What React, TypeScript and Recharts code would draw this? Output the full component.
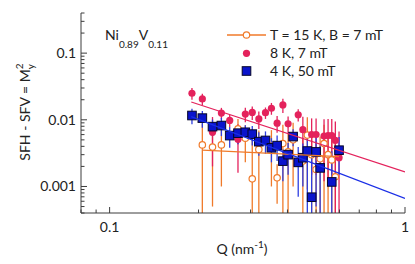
import { ScatterChart, Scatter, XAxis, YAxis, ErrorBar } from 'recharts';

// Q grid (nm^-1), shared by all three data sets
const qValues = [0.190, 0.206, 0.223, 0.239, 0.255, 0.272, 0.288, 0.304, 0.320, 0.337, 0.353, 0.369, 0.386, 0.402, 0.418, 0.435, 0.451, 0.467, 0.483, 0.500, 0.516, 0.532, 0.549, 0.565, 0.581, 0.598];

// T = 15 K, B = 7 mT
const orangeValues = [null, 0.0042, 0.0039, 0.0042, null, 0.0073, 0.0053, 0.0013, 0.0036, null, 0.0040, 0.00135, 0.0044, 0.0033, 0.0050, null, 0.0024, 0.0059, 0.0030, 0.0018, 0.0026, 0.0044, 0.0030, 0.0025, 0.0014, null];
const orangeErrors = [null, 0.0045, 0.0034, 0.0032, null, 0.003, 0.003, 0.006, 0.0033, null, 0.003, 0.0008, 0.004, 0.003, 0.004, null, 0.003, 0.005, 0.003, 0.003, 0.003, 0.004, 0.003, 0.004, 0.003, null];

// 8 K, 7 mT
const redValues = [0.025, 0.0206, 0.0065, 0.0126, 0.0098, 0.0051, 0.0122, 0.0129, 0.0103, 0.0128, 0.0149, 0.0089, 0.0167, 0.0087, null, 0.0119, 0.0071, null, 0.0060, 0.0060, null, 0.0057, 0.0058, 0.0058, 0.0049, 0.0027];
const redErrors = [0.005, 0.004, 0.0045, 0.0025, 0.002, 0.0035, 0.003, 0.003, 0.003, 0.0025, 0.003, 0.0025, 0.004, 0.0025, null, 0.0025, 0.004, null, 0.0045, 0.0045, null, 0.0045, 0.0045, 0.0045, 0.0045, 0.004];

// 4 K, 50 mT
const blueValues = [0.0116, 0.0106, 0.0079, 0.0082, 0.0058, 0.0063, 0.0065, 0.0061, 0.0047, 0.0049, 0.0038, 0.0041, 0.0024, 0.0030, 0.0056, 0.0023, 0.0027, 0.0034, 0.00069, 0.0033, 0.0019, null, null, 0.00117, null, 0.0035];
const blueErrors = [0.003, 0.003, 0.0022, 0.0025, 0.002, 0.002, 0.0018, 0.002, 0.0018, 0.0018, 0.0015, 0.0017, 0.0012, 0.0015, 0.0016, 0.0016, 0.0017, 0.003, 0.0023, 0.0028, 0.0022, null, null, 0.0022, null, 0.002];

// power-law fits (end points)
const orangeFitQ = [0.206, 0.598];
const orangeFitV = [0.0035, 0.0028];
const redFitQ = [0.189, 1];
const redFitV = [0.0185, 0.00165];
const blueFitQ = [0.189, 1];
const blueFitV = [0.0112, 0.00066];

const xTicks = [0.08, 0.09, 0.1, 0.2, 0.3, 0.4, 0.5, 0.6, 0.7, 0.8, 0.9, 1];
const xLabels = [0.1, 1];
const yTicks = [0.0004, 0.0005, 0.0006, 0.0007, 0.0008, 0.0009, 0.001, 0.002, 0.003, 0.004, 0.005, 0.006, 0.007, 0.008, 0.009, 0.01, 0.02, 0.03, 0.04, 0.05, 0.06, 0.07, 0.08, 0.09, 0.1, 0.2, 0.3, 0.4];
const yLabels = [0.001, 0.01, 0.1];

const Y_MIN = 0.0004;
const AXIS = '#3c3c3c';
const FONT = 'Lato, "Noto Sans", sans-serif';
const ORANGE = '#f07a2a';
const RED = '#e4225c';
const BLUE = '#0a14cc';
const BLUE_BAR = '#2f3fe0';

const points = (vals: (number | null)[], errs: (number | null)[]) =>
    qValues
        .map((q, i) => {
            const v = vals[i];
            const e = errs[i];
            if (v == null || e == null) return null;
            return { q, v, err: [v - Math.max(v - e, Y_MIN), e] };
        })
        .filter(Boolean);

const fit = (qs: number[], vs: number[]) => qs.map((q, i) => ({ q, v: vs[i] }));

const orangeData = points(orangeValues, orangeErrors);
const redData = points(redValues, redErrors);
const blueData = points(blueValues, blueErrors);

function BottomTick({ x, y, payload }: any) {
    const major = xLabels.includes(payload.value);
    return (
        <g>
            <line x1={x} x2={x} y1={y} y2={y - (major ? 6 : 3.5)} stroke={AXIS} />
            {major && (
                <text x={x} y={y + 18.5} textAnchor="middle" fontSize={14} fontFamily={FONT} fill="#222">
                    {payload.value}
                </text>
            )}
        </g>
    );
}

function TopTick({ x, y, payload }: any) {
    const major = xLabels.includes(payload.value);
    return <line x1={x} x2={x} y1={y} y2={y + (major ? 6 : 3.5)} stroke={AXIS} />;
}

function LeftTick({ x, y, payload }: any) {
    const major = yLabels.includes(payload.value);
    return (
        <g>
            <line x1={x} x2={x + (major ? 6 : 3.5)} y1={y} y2={y} stroke={AXIS} />
            {major && (
                <text x={x - 5} y={y + 5} textAnchor="end" fontSize={14} fontFamily={FONT} fill="#222">
                    {payload.value}
                </text>
            )}
        </g>
    );
}

function RightTick({ x, y, payload }: any) {
    const major = yLabels.includes(payload.value);
    return <line x1={x} x2={x - (major ? 6 : 3.5)} y1={y} y2={y} stroke={AXIS} />;
}

const OpenCircle = ({ cx, cy }: any) => <circle cx={cx} cy={cy} r={3.2} fill="#fff" stroke={ORANGE} strokeWidth={1.2} />;
const Dot = ({ cx, cy }: any) => <circle cx={cx} cy={cy} r={3.6} fill={RED} />;
const Square = ({ cx, cy }: any) => (
    <rect x={cx - 4.3} y={cy - 4.3} width={8.6} height={8.6} fill={BLUE} stroke="#06062a" strokeWidth={1} />
);
const NoShape = () => <g />;

export default function App() {
    return (
        <div style={{ position: 'absolute', left: 0, top: 0, width: 415, height: 264, background: '#fff', fontFamily: FONT }}>
            <ScatterChart width={415} height={264} margin={{ top: 13, right: 10, bottom: 0, left: 0 }}>
                <XAxis
                    xAxisId="b"
                    type="number"
                    dataKey="q"
                    scale="log"
                    domain={[0.08, 1]}
                    allowDataOverflow
                    ticks={xTicks}
                    interval={0}
                    tickSize={0}
                    tickMargin={0}
                    tick={(p: any) => <BottomTick {...p} />}
                    axisLine={{ stroke: AXIS }}
                    height={51}
                />
                <XAxis
                    xAxisId="t"
                    orientation="top"
                    type="number"
                    dataKey="q"
                    scale="log"
                    domain={[0.08, 1]}
                    allowDataOverflow
                    ticks={xTicks}
                    interval={0}
                    tickSize={0}
                    tickMargin={0}
                    tick={(p: any) => <TopTick {...p} />}
                    axisLine={{ stroke: AXIS }}
                    height={0}
                />
                <YAxis
                    yAxisId="l"
                    type="number"
                    dataKey="v"
                    scale="log"
                    domain={[Y_MIN, 0.4]}
                    allowDataOverflow
                    ticks={yTicks}
                    interval={0}
                    tickSize={0}
                    tickMargin={0}
                    tick={(p: any) => <LeftTick {...p} />}
                    axisLine={{ stroke: AXIS }}
                    width={81}
                />
                <YAxis
                    yAxisId="r"
                    orientation="right"
                    type="number"
                    dataKey="v"
                    scale="log"
                    domain={[Y_MIN, 0.4]}
                    allowDataOverflow
                    ticks={yTicks}
                    interval={0}
                    tickSize={0}
                    tickMargin={0}
                    tick={(p: any) => <RightTick {...p} />}
                    axisLine={{ stroke: AXIS }}
                    width={0}
                />

                <Scatter xAxisId="b" yAxisId="l" data={orangeData} shape={OpenCircle} isAnimationActive={false}>
                    <ErrorBar dataKey="err" direction="y" width={0} stroke={ORANGE} strokeWidth={1.3} />
                </Scatter>
                <Scatter xAxisId="b" yAxisId="l" data={redData} shape={Dot} isAnimationActive={false}>
                    <ErrorBar dataKey="err" direction="y" width={0} stroke={RED} strokeWidth={1.3} />
                </Scatter>
                <Scatter xAxisId="b" yAxisId="l" data={blueData} shape={Square} isAnimationActive={false}>
                    <ErrorBar dataKey="err" direction="y" width={0} stroke={BLUE_BAR} strokeWidth={1.3} />
                </Scatter>

                <Scatter xAxisId="b" yAxisId="l" data={fit(orangeFitQ, orangeFitV)} line={{ stroke: ORANGE, strokeWidth: 1.3 }} shape={NoShape} isAnimationActive={false} />
                <Scatter xAxisId="b" yAxisId="l" data={fit(redFitQ, redFitV)} line={{ stroke: RED, strokeWidth: 1.3 }} shape={NoShape} isAnimationActive={false} />
                <Scatter xAxisId="b" yAxisId="l" data={fit(blueFitQ, blueFitV)} line={{ stroke: '#1a2ee6', strokeWidth: 1.3 }} shape={NoShape} isAnimationActive={false} />
            </ScatterChart>

            <svg width={415} height={264} style={{ position: 'absolute', left: 0, top: 0, pointerEvents: 'none' }} fontFamily={FONT} fill="#222">
                <text x={105} y={39.5} fontSize={14}>
                    Ni<tspan fontSize={10} dy={8}>0.89</tspan>
                    <tspan dy={-8}>V</tspan>
                    <tspan fontSize={10} dy={8}>0.11</tspan>
                </text>

                <line x1={227} x2={266} y1={35} y2={35} stroke={ORANGE} strokeWidth={1.3} />
                <circle cx={246.5} cy={35} r={3.2} fill="#fff" stroke={ORANGE} strokeWidth={1.2} />
                <text x={270} y={40} fontSize={14}>T = 15 K, B = 7 mT</text>
                <circle cx={246.5} cy={53.3} r={3.6} fill={RED} />
                <text x={270} y={58.3} fontSize={14}>8 K, 7 mT</text>
                <rect x={242.2} y={66.7} width={8.6} height={8.6} fill={BLUE} stroke="#06062a" strokeWidth={1} />
                <text x={270} y={76} fontSize={14}>4 K, 50 mT</text>

                <text transform="translate(30,112) rotate(-90)" textAnchor="middle" fontSize={14}>
                    SFH - SFV = M<tspan fontSize={10} dy={4}>y</tspan>
                    <tspan fontSize={10} dx={-5} dy={-11}>2</tspan>
                </text>

                <text x={242} y={254} textAnchor="middle" fontSize={14}>
                    Q (nm<tspan fontSize={10} dy={-6}>-1</tspan>
                    <tspan dy={6}>)</tspan>
                </text>
            </svg>
        </div>
    );
}
